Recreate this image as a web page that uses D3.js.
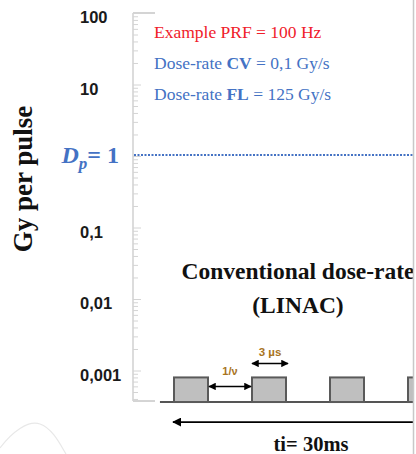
<!DOCTYPE html>
<html><head><meta charset="utf-8">
<script src="https://cdn.jsdelivr.net/npm/d3@7"></script>
<style>html,body{margin:0;padding:0;background:#fff;}svg{display:block;}</style>
</head><body>
<svg id="chart" width="416" height="454"></svg>
<script>
// ---- data ----
const majorTicks = [100, 10, 1, 0.1, 0.01, 0.001];
const majorLabels = ["100", "10", "", "0,1", "0,01", "0,001"];
const dpValue = 1;
const pulseTimesMs = [0, 10, 20, 30];
const pulseDose = 0.0008;
const annotationLines = [
  {parts: [["Example PRF = 100 Hz", false]], color: "#f0202a"},
  {parts: [["Dose-rate ", false], ["CV", true], [" = 0,1 Gy/s", false]], color: "#4472c4"},
  {parts: [["Dose-rate ", false], ["FL", true], [" = 125 Gy/s", false]], color: "#4472c4"}
];
const titleLines = ["Conventional dose-rate", "(LINAC)"];
const yTitle = "Gy per pulse";
const periodLabel = "1/ν";
const widthLabel = "3 µs";
const totalLabel = "ti= 30ms";

// ---- layout ----
const svg = d3.select("#chart");
const W = 416, H = 454;
const clipX = 413;
const axisX = 133;
const yTop = 13, perDecade = 71.5;
const yMin = Math.pow(10, -3.427);
const y = d3.scaleLog().domain([yMin, 100]).range([yTop + perDecade * (2 - Math.log10(yMin)), yTop]);
const x = d3.scaleLinear().domain([0, 10]).range([174, 252]);
const pulseW = 34; // schematic drawn width, px

const defs = svg.append("defs");
defs.append("clipPath").attr("id", "clip").append("rect").attr("x", 0).attr("y", 0).attr("width", clipX).attr("height", H);
defs.append("marker").attr("id", "ah").attr("viewBox", "0 0 10 10").attr("refX", 9).attr("refY", 5)
  .attr("markerWidth", 5).attr("markerHeight", 5).attr("orient", "auto-start-reverse")
  .append("path").attr("d", "M0,0 L10,5 L0,10 Z").attr("fill", "#000");

const g = svg.append("g").attr("clip-path", "url(#clip)");

// decorative curve lower-left
g.append("path").attr("d", "M0,448 C12,432 28,420 40,424 C52,428 60,444 66,454")
  .attr("fill", "none").attr("stroke", "#e8e8e8").attr("stroke-width", 1.2);

// minor / major ticks
const minorVals = [];
for (let e = -4; e <= 1; e++) for (let k = 1; k <= 9; k++) {
  const v = k * Math.pow(10, e);
  if (v >= yMin * 0.999 && v <= 100) minorVals.push(v);
}
minorVals.push(100);
const axisG = g.append("g").attr("transform", `translate(${axisX},0)`);
axisG.call(d3.axisRight(y).tickValues(minorVals).tickSize(5).tickFormat(""));
axisG.select(".domain").remove();
axisG.selectAll(".tick line").attr("stroke", "#d4d4d4").attr("stroke-width", 1)
  .attr("x2", d => majorTicks.includes(d) ? 8 : 5);
axisG.append("line").attr("x1", 0).attr("x2", 0).attr("y1", y(100)).attr("y2", y(yMin))
  .attr("stroke", "#d4d4d4").attr("stroke-width", 1.6);
[100, yMin].forEach(v => axisG.append("line").attr("x1", 0).attr("x2", 22).attr("y1", y(v)).attr("y2", y(v))
  .attr("stroke", "#d4d4d4").attr("stroke-width", 2));

// tick labels
g.selectAll(".ylab").data(majorTicks.map((v, i) => ({v, t: majorLabels[i]})).filter(d => d.t))
  .enter().append("text").attr("x", 80).attr("y", d => y(d.v) + 10)
  .attr("font-family", "Liberation Sans, Arial, sans-serif").attr("font-weight", "bold")
  .attr("font-size", 16.5).attr("fill", "#1a1a1a").text(d => d.t);

// Dp label
const dp = g.append("text").attr("x", 119).attr("y", y(dpValue) + 7).attr("text-anchor", "end")
  .attr("font-family", "Liberation Serif, serif").attr("font-weight", "bold")
  .attr("font-size", 24).attr("fill", "#4472c4");
dp.append("tspan").attr("font-style", "italic").text("D");
dp.append("tspan").attr("font-style", "italic").attr("font-size", 17).attr("dy", 6).text("p");
dp.append("tspan").attr("dy", -6).text("= 1");

// dotted line at Dp
g.append("line").attr("x1", axisX + 1).attr("x2", clipX).attr("y1", y(dpValue) - 1).attr("y2", y(dpValue) - 1)
  .attr("stroke", "#4472c4").attr("stroke-width", 1.8).attr("stroke-dasharray", "2,1.5");

// y title
g.append("text").attr("transform", `translate(32,179) rotate(-90)`).attr("text-anchor", "middle")
  .attr("font-family", "Liberation Serif, serif").attr("font-weight", "bold").attr("font-size", 27)
  .attr("fill", "#111").text(yTitle);

// annotations
annotationLines.forEach((line, i) => {
  const t = g.append("text").attr("x", 154).attr("y", 38 + i * 31)
    .attr("font-family", "Liberation Serif, serif").attr("font-size", 17.5).attr("fill", line.color);
  line.parts.forEach(p => t.append("tspan").attr("font-weight", p[1] ? "bold" : "normal").text(p[0]));
});

// title
titleLines.forEach((s, i) => g.append("text").attr("x", 298).attr("y", 279 + i * 34).attr("text-anchor", "middle")
  .attr("font-family", "Liberation Serif, serif").attr("font-weight", "bold").attr("font-size", 23.5)
  .attr("fill", "#111").text(s));

// pulses
const baseY = y(yMin) + 1;
g.append("line").attr("x1", x(-1.8)).attr("x2", W).attr("y1", baseY).attr("y2", baseY)
  .attr("stroke", "#555").attr("stroke-width", 2);
g.selectAll(".pulse").data(pulseTimesMs).enter().append("rect")
  .attr("x", d => x(d)).attr("y", y(pulseDose)).attr("width", pulseW).attr("height", baseY - y(pulseDose))
  .attr("fill", "#bfbfbf").attr("stroke", "#5a5a5a").attr("stroke-width", 2);

// period arrow
const pa = y(pulseDose) + 9;
g.append("line").attr("x1", x(pulseTimesMs[0]) + pulseW + 1).attr("x2", x(pulseTimesMs[1]) - 1)
  .attr("y1", pa).attr("y2", pa).attr("stroke", "#000").attr("stroke-width", 1.5)
  .attr("marker-start", "url(#ah)").attr("marker-end", "url(#ah)");
g.append("text").attr("x", (x(pulseTimesMs[0]) + pulseW + x(pulseTimesMs[1])) / 2).attr("y", pa - 11)
  .attr("text-anchor", "middle").attr("font-family", "Liberation Sans, Arial, sans-serif")
  .attr("font-weight", "bold").attr("font-size", 11).attr("fill", "#a8741e").text(periodLabel);
// width arrow
const wa = y(pulseDose) - 14;
g.append("line").attr("x1", x(pulseTimesMs[1])).attr("x2", x(pulseTimesMs[1]) + pulseW + 2)
  .attr("y1", wa).attr("y2", wa).attr("stroke", "#000").attr("stroke-width", 1.5)
  .attr("marker-start", "url(#ah)").attr("marker-end", "url(#ah)");
g.append("text").attr("x", x(pulseTimesMs[1]) + pulseW / 2 + 1).attr("y", wa - 7)
  .attr("text-anchor", "middle").attr("font-family", "Liberation Sans, Arial, sans-serif")
  .attr("font-weight", "bold").attr("font-size", 11.5).attr("fill", "#a8741e").text(widthLabel);

// total time arrow
const ta = baseY + 20;
g.append("line").attr("x1", x(pulseTimesMs[0]) - 1).attr("x2", W).attr("y1", ta).attr("y2", ta)
  .attr("stroke", "#000").attr("stroke-width", 1.8).attr("marker-start", "url(#ah)");
g.append("text").attr("x", 311).attr("y", 451).attr("text-anchor", "middle")
  .attr("font-family", "Liberation Serif, serif").attr("font-weight", "bold").attr("font-size", 20.5)
  .attr("fill", "#111").text(totalLabel);

// right border
svg.append("line").attr("x1", clipX + 0.5).attr("x2", clipX + 0.5).attr("y1", 0).attr("y2", H)
  .attr("stroke", "#c8c8c8").attr("stroke-width", 1.5);
</script>
</body></html>
